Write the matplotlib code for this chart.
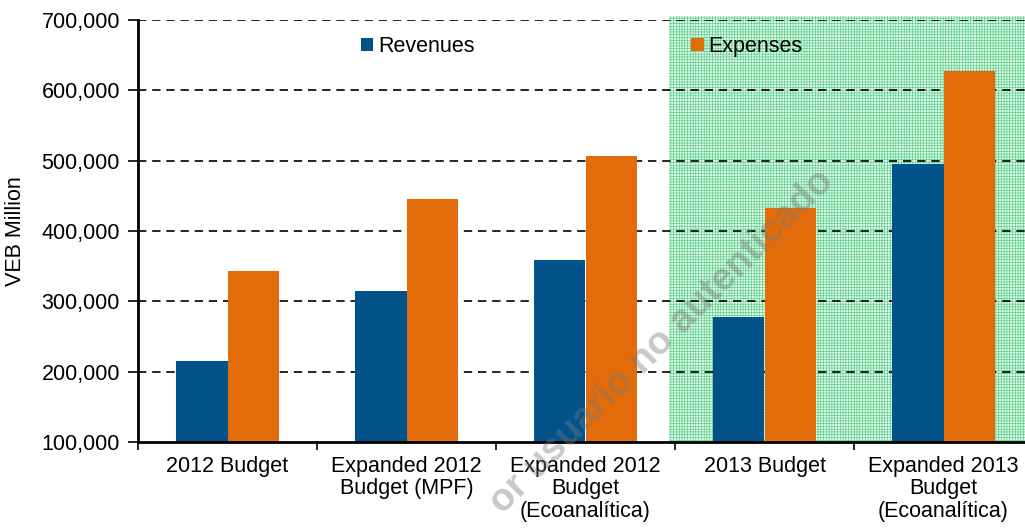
import numpy as np
import matplotlib.pyplot as plt
from matplotlib.patches import Rectangle

plt.rcParams['font.family'] = ['Liberation Sans', 'DejaVu Sans']
plt.rcParams['hatch.linewidth'] = 0.45

# Data (VEB Million)
categories = ['2012 Budget', 'Expanded 2012\nBudget (MPF)', 'Expanded 2012\nBudget\n(Ecoanalítica)',
              '2013 Budget', 'Expanded 2013\nBudget\n(Ecoanalítica)']
revenues = [215000, 315000, 359000, 278000, 495000]
expenses = [343000, 445000, 506000, 433000, 627000]

blue = '#02538a'
orange = '#e36c0a'
fs = 15.5

fig = plt.figure(figsize=(10.25, 5.31), dpi=100)
ax = fig.add_axes([138/1025, 89/531, 895/1025, 422/531])

x = np.arange(len(categories))
w = 0.285
ax.bar(x - w/2, revenues, w, color=blue, label='Revenues', zorder=3)
ax.bar(x + w/2, expenses, w, color=orange, label='Expenses', zorder=3)

# shaded forecast region
shade = Rectangle((2.466, 100000), 3.0, 606000, facecolor='#e2f7ea', edgecolor='#55cf85',
                  hatch='++++++', linewidth=0, zorder=1, clip_on=False)
ax.add_patch(shade)

ax.set_xlim(-0.5, 4.5)
ax.set_ylim(100000, 700000)
ax.set_yticks(np.arange(100000, 700001, 100000))
ax.set_yticklabels([f'{v:,}' for v in range(100000, 700001, 100000)], fontsize=fs)
ax.set_xticks(x)
ax.set_xticklabels(categories, fontsize=fs, linespacing=1.1)
ax.set_xticks(np.arange(-0.5, 4.6, 1), minor=True)
ax.tick_params(axis='x', which='major', length=0, pad=10)
ax.tick_params(axis='x', which='minor', length=6, width=1.2, direction='out')
ax.tick_params(axis='y', length=7, width=1.2, direction='out', pad=6)

for v in range(200000, 700001, 100000):
    ax.axhline(v, color='black', linestyle=(0, (5, 3.5)), linewidth=1.2, zorder=2)

for s in ['top', 'right']:
    ax.spines[s].set_visible(False)
for s in ['left', 'bottom']:
    ax.spines[s].set_linewidth(2)
    ax.spines[s].set_zorder(4)

ax.set_ylabel('VEB Million', fontsize=fs, labelpad=11)

leg = ax.legend(loc='upper left', bbox_to_anchor=(0.227, 1.008), ncol=2, frameon=False,
                fontsize=fs, handlelength=0.6, handleheight=0.6, handletextpad=0.2,
                columnspacing=10.05)

# watermark
fig.text(662/1025, 1 - 342/531, 'or usuario no autenticado', rotation=45,
         fontsize=27.5, fontweight='bold', color='#777777', alpha=0.4,
         ha='center', va='center', rotation_mode='anchor', zorder=10)

fig.savefig('out.png', dpi=100)
